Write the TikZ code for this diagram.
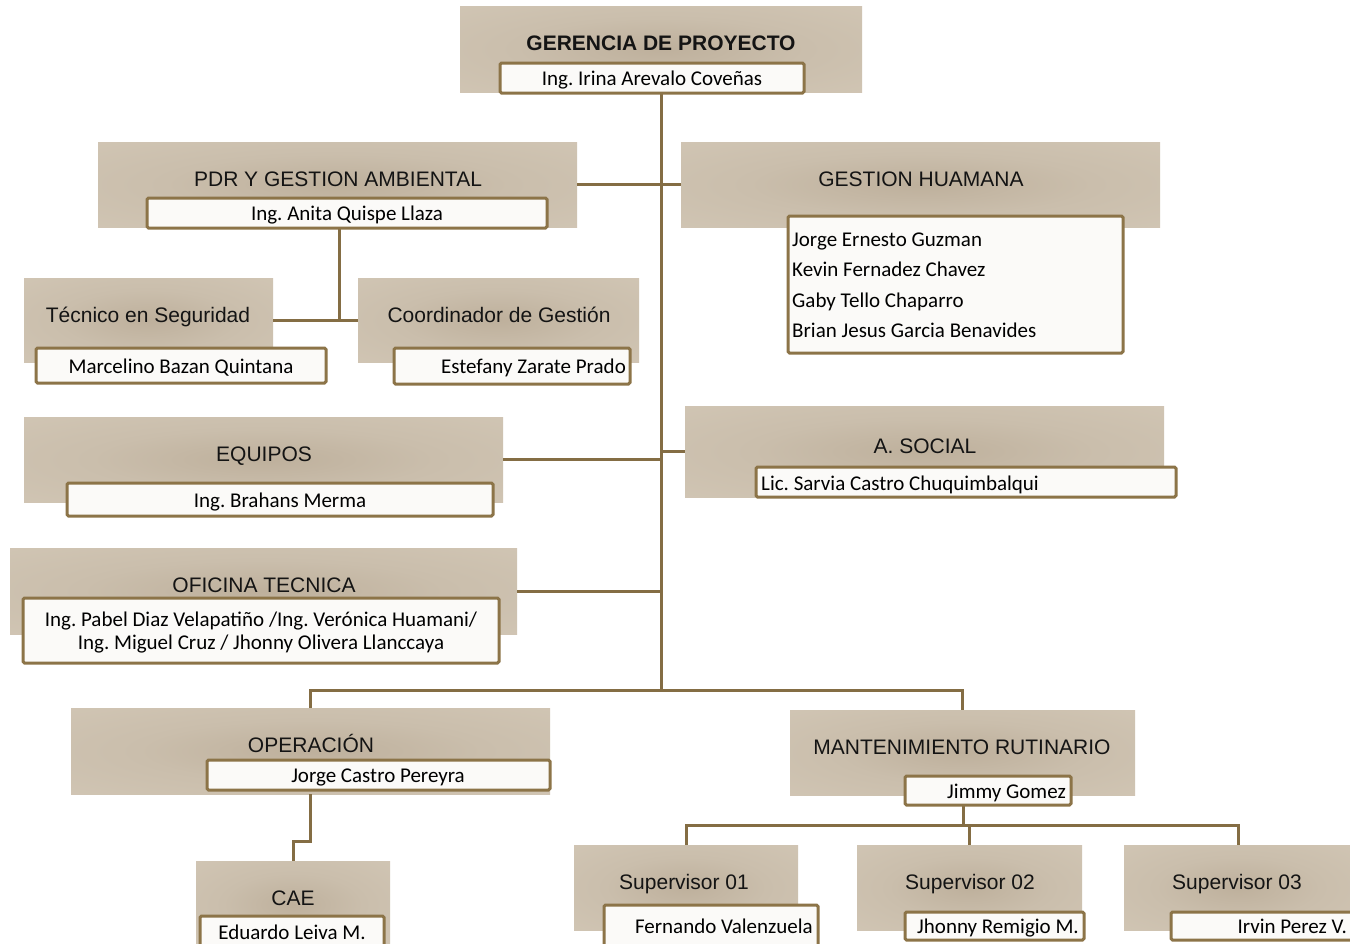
\documentclass[tikz,border=0pt]{standalone}
\usepackage{fontspec}
\setmainfont{Carlito}
\newfontfamily\arialf{Liberation Sans}
\frenchspacing
\definecolor{bxin}{RGB}{190,176,156}
\definecolor{bxmid}{RGB}{202,190,172}
\definecolor{bxout}{RGB}{213,202,185}
\definecolor{bord}{RGB}{140,116,72}
\definecolor{connc}{RGB}{132,109,68}
\definecolor{nmfill}{RGB}{251,250,248}
\definecolor{titlec}{RGB}{20,20,20}
\pgfdeclareradialshading{boxshade}{\pgfpoint{0bp}{0bp}}{color(0bp)=(bxin); color(18bp)=(bxmid); color(50bp)=(bxout); color(100bp)=(bxout)}
\tikzset{
  hdr/.style={rectangle, shading=boxshade, draw=none, inner sep=0pt},
  nm/.style={rectangle, draw=bord, line width=3pt, rounded corners=1.5pt, fill=nmfill, inner sep=0pt},
  ttl/.style={font=\arialf\fontsize{21}{25}\selectfont, text=titlec, inner sep=0pt, text height=15pt, text depth=0pt},
  ntx/.style={font=\frenchspacing\fontsize{21}{25}\selectfont, text=black, inner sep=0pt, text height=13pt, text depth=0pt},
  conn/.style={draw=connc, line width=3pt}
}
\begin{document}
\begin{tikzpicture}[x=1pt,y=-1pt]
\clip (0,0) rectangle (1350,943);
\fill[white] (0,0) rectangle (1350,943);

% ---------- boxes ----------
\node[hdr, minimum width=402pt, minimum height=86pt] (gerB) at (661,49) {};
\node[hdr, minimum width=479pt, minimum height=85pt] (pdrB) at (337.5,184.5) {};
\node[hdr, minimum width=479pt, minimum height=85pt] (ghB) at (920.5,184.5) {};
\node[hdr, minimum width=249pt, minimum height=84pt] (tsB) at (148.5,320) {};
\node[hdr, minimum width=281pt, minimum height=84pt] (cgB) at (498.5,320) {};
\node[hdr, minimum width=479pt, minimum height=85pt] (eqB) at (263.5,459.5) {};
\node[hdr, minimum width=479pt, minimum height=91pt] (asB) at (924.5,451.5) {};
\node[hdr, minimum width=507pt, minimum height=86pt] (otB) at (263.5,591) {};
\node[hdr, minimum width=479pt, minimum height=86pt] (opB) at (310.5,751) {};
\node[hdr, minimum width=345pt, minimum height=85pt] (mrB) at (962.5,752.5) {};
\node[hdr, minimum width=194pt, minimum height=87pt] (caeB) at (293,904.5) {};
\node[hdr, minimum width=224pt, minimum height=85pt] (s1B) at (686,887.5) {};
\node[hdr, minimum width=225pt, minimum height=85pt] (s2B) at (969.5,887.5) {};
\node[hdr, minimum width=228pt, minimum height=85pt] (s3B) at (1238,887.5) {};

% ---------- connectors ----------
\coordinate (hub) at (661,690);
\draw[conn] (gerB.south |- 0,93) -- (hub);
\draw[conn] (pdrB.east) -- (pdrB.east -| hub);
\draw[conn] (ghB.west) -- (ghB.west -| hub);
\coordinate (pdrj) at (339,320);
\draw[conn] (pdrj |- 0,228) -- (pdrj);
\draw[conn] (tsB.east) -- (cgB.west);
\draw[conn] (eqB.east) -- (eqB.east -| hub);
\draw[conn] (asB.west) -- (asB.west -| hub);
\draw[conn] (otB.east) -- (otB.east -| hub);
\draw[conn] (opB.north) |- (hub) -| (mrB.north);
\draw[conn] (opB.south) -- ++(0,47) -| (caeB.north);
\coordinate (mrj) at (963,825);
\draw[conn] (mrj |- 0,805) -- (mrj);
\draw[conn] (s1B.north) -- (s1B.north |- mrj) -- (s3B.north |- mrj) -- (s3B.north);
\draw[conn] (s2B.north) -- (s2B.north |- mrj);

% ---------- name boxes ----------
\node[nm, minimum width=304pt, minimum height=30pt] (gerN) at (652,78) {};
\node[nm, minimum width=400pt, minimum height=30pt] (pdrN) at (347,213) {};
\node[nm, minimum width=335pt, minimum height=137pt] (ghN) at (955.5,284.5) {};
\node[nm, minimum width=290pt, minimum height=35pt] (tsN) at (181,365.5) {};
\node[nm, minimum width=236pt, minimum height=36pt] (cgN) at (512,366) {};
\node[nm, minimum width=426pt, minimum height=33pt] (eqN) at (280,499.5) {};
\node[nm, minimum width=420pt, minimum height=30pt] (asN) at (966,482) {};
\node[nm, minimum width=476pt, minimum height=65pt] (otN) at (261,630.5) {};
\node[nm, minimum width=343pt, minimum height=30pt] (opN) at (378.5,775) {};
\node[nm, minimum width=166pt, minimum height=29pt] (mrN) at (988,790.5) {};
\node[nm, minimum width=184pt, minimum height=34pt] (caeN) at (292,933) {};
\node[nm, minimum width=214pt, minimum height=45pt] (s1N) at (711,927.5) {};
\node[nm, minimum width=179pt, minimum height=28pt] (s2N) at (994.5,926) {};
\node[nm, minimum width=184pt, minimum height=28pt] (s3N) at (1263,926) {};

% ---------- titles ----------
\node[ttl, font=\arialf\bfseries\fontsize{21}{25}\selectfont] (gerT) at (661,42.5) {GERENCIA DE PROYECTO};
\node[ttl] (pdrT) at (338,178.5) {PDR Y GESTION AMBIENTAL};
\node[ttl] (ghT) at (921,178.5) {GESTION HUAMANA};
\node[ttl] (tsT) at (148,314.5) {Técnico en Seguridad};
\node[ttl] (cgT) at (499,314.5) {Coordinador de Gestión};
\node[ttl] (eqT) at (264,453.5) {EQUIPOS};
\node[ttl] (asT) at (925,445.5) {A. SOCIAL};
\node[ttl] (otT) at (264,584.5) {OFICINA TECNICA};
\node[ttl] (opT) at (311,744.5) {OPERACIÓN};
\node[ttl] (mrT) at (962,746.5) {MANTENIMIENTO RUTINARIO};
\node[ttl] (caeT) at (293,897.5) {CAE};
\node[ttl] (s1T) at (684,881.5) {Supervisor 01};
\node[ttl] (s2T) at (970,881.5) {Supervisor 02};
\node[ttl] (s3T) at (1237,881.5) {Supervisor 03};

% ---------- names ----------
\node[ntx] (gerX) at (652,79) {Ing. Irina Arevalo Coveñas};
\node[ntx] (pdrX) at (347,214) {Ing. Anita Quispe Llaza};
\node[ntx, anchor=west] (gh1) at (792,240) {Jorge Ernesto Guzman};
\node[ntx, anchor=west] (gh2) at (792,270) {Kevin Fernadez Chavez};
\node[ntx, anchor=west] (gh3) at (792,301) {Gaby Tello Chaparro};
\node[ntx, anchor=west] (gh4) at (792,331) {Brian Jesus Garcia Benavides};
\node[ntx] (tsX) at (181,367) {Marcelino Bazan Quintana};
\node[ntx, anchor=east] (cgX) at (626,367) {Estefany Zarate Prado};
\node[ntx] (eqX) at (280,501) {Ing. Brahans Merma};
\node[ntx, anchor=west] (asX) at (761,484) {Lic. Sarvia Castro Chuquimbalqui};
\node[ntx] (otX1) at (261,620) {Ing. Pabel Diaz Velapatiño /Ing. Verónica Huamani/};
\node[ntx] (otX2) at (261,643) {Ing. Miguel Cruz / Jhonny Olivera Llanccaya};
\node[ntx] (opX) at (378,776) {Jorge Castro Pereyra};
\node[ntx, anchor=east] (mrX) at (1066,792) {Jimmy Gomez};
\node[ntx] (caeX) at (292,933) {Eduardo Leiva M.};
\node[ntx, anchor=east] (s1X) at (813,927) {Fernando Valenzuela};
\node[ntx] (s2X) at (998,927) {Jhonny Remigio M.};
\node[ntx, anchor=east] (s3X) at (1347,927) {Irvin Perez V.};
\end{tikzpicture}
\end{document}
